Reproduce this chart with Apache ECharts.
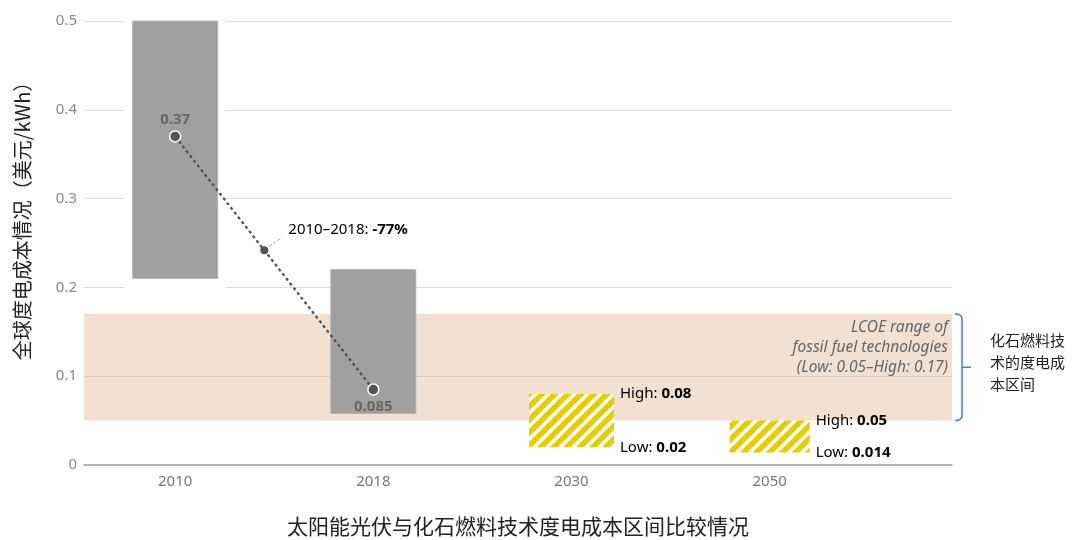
<!DOCTYPE html>
<html><head><meta charset="utf-8">
<script src="https://cdn.jsdelivr.net/npm/echarts@6/dist/echarts.min.js"></script>
<style>html,body{margin:0;padding:0;background:#fff}#c{width:1075px;height:540px}</style>
</head><body><div id="c"></div>
<script>
// ---- data ----
const years = ['2010', '2018', '2030', '2050'];
const solarLow = [0.21, 0.058];
const solarHigh = [0.5, 0.22];
const solarAvg = [0.37, 0.085];
const projLow = [0.02, 0.014];
const projHigh = [0.08, 0.05];
const fossilLow = 0.05;
const fossilHigh = 0.17;
const changeLabel = '2010–2018: ';
const changeValue = '-77%';
const yTicks = [0, 0.1, 0.2, 0.3, 0.4, 0.5];
const yTitle = '全球度电成本情况（美元/kWh）';
const xTitle = '太阳能光伏与化石燃料技术度电成本区间比较情况';
const fossilNote = ['LCOE range of', 'fossil fuel technologies', '(Low: 0.05–High: 0.17)'];
const fossilSideNote = ['化石燃料技', '术的度电成', '本区间'];

// ---- styles ----
const LATIN = '"Noto Sans", "Noto Sans CJK SC", sans-serif';
const CJK = '"Noto Sans CJK SC", "Noto Sans", sans-serif';
const X_MIN = -0.46, X_MAX = 3.92;
const BAR_W = 85;
const GAP = 8;

function hatch() {
  const s = 13, c = document.createElement('canvas');
  c.width = s; c.height = s;
  const g = c.getContext('2d');
  g.fillStyle = '#fff'; g.fillRect(0, 0, s, s);
  g.strokeStyle = '#e6cd00'; g.lineWidth = 5.6;
  g.beginPath();
  g.moveTo(-s, s); g.lineTo(s, -s);
  g.moveTo(-s, 2 * s); g.lineTo(2 * s, -s);
  g.moveTo(0, 2 * s); g.lineTo(2 * s, 0);
  g.stroke();
  return c;
}
const hatchPattern = { image: hatch(), repeat: 'repeat' };

const chart = echarts.init(document.getElementById('c'));
const t = 0.45;
const mid = [t, solarAvg[0] + t * (solarAvg[1] - solarAvg[0])];

chart.setOption({
  animation: false,
  grid: { left: 84, right: 123, top: 21, bottom: 75, outerBoundsMode: 'none', containLabel: false },
  xAxis: {
    type: 'value', min: X_MIN, max: X_MAX,
    splitLine: { show: false },
    axisTick: { show: false },
    axisLine: { show: true, lineStyle: { color: '#a3a3a3', width: 1.5 } },
    axisLabel: {
      customValues: years.map((y, i) => i),
      formatter: v => years[Math.round(v)],
      color: '#777', fontSize: 15, margin: 9, fontFamily: LATIN
    },
    name: xTitle, nameLocation: 'middle', nameGap: 51,
    nameTextStyle: { fontSize: 21, color: '#222', fontFamily: CJK }
  },
  yAxis: {
    type: 'value', min: 0, max: 0.5, interval: 0.1,
    axisLine: { show: false }, axisTick: { show: false },
    splitLine: { lineStyle: { color: '#dcdcdc', width: 1 } },
    axisLabel: {
      customValues: yTicks,
      formatter: v => v === 0 ? '0' : v.toFixed(1),
      color: '#888', fontSize: 15, margin: 7, fontFamily: LATIN
    },
    name: yTitle, nameLocation: 'middle', nameGap: 52,
    nameTextStyle: { fontSize: 20, color: '#222', fontFamily: CJK, padding: [0, 0, 0, 54] }
  },
  series: [
    {
      name: 'fossil', type: 'line', data: [], z: 1,
      markArea: {
        silent: true,
        itemStyle: { color: 'rgba(218,166,126,0.35)' },
        label: {
          show: true, position: 'insideTopRight', distance: 4,
          formatter: fossilNote.join('\n'),
          color: '#666', fontSize: 15.5, lineHeight: 20, fontStyle: 'italic', fontFamily: LATIN
        },
        data: [[{ yAxis: fossilLow }, { yAxis: fossilHigh }]]
      }
    },
    {
      name: 'solar', type: 'custom', z: 2, clip: false,
      data: solarLow.map((l, i) => [i, l, solarHigh[i]]),
      renderItem(params, api) {
        const x = api.value(0);
        const p1 = api.coord([x, api.value(2)]);
        const p2 = api.coord([x, api.value(1)]);
        const children = [];
        if (params.dataIndex === 0) {
          children.push({ type: 'rect', shape: { x: p1[0] - BAR_W / 2 - GAP, y: p1[1], width: BAR_W + 2 * GAP, height: p2[1] - p1[1] + GAP + 2 }, style: { fill: '#fff' } });
        }
        children.push({ type: 'rect', shape: { x: p1[0] - BAR_W / 2, y: p1[1], width: BAR_W, height: p2[1] - p1[1] }, style: { fill: '#a0a19f', stroke: '#b3b4b2', lineWidth: 1 } });
        return { type: 'group', children };
      }
    },
    {
      name: 'proj', type: 'custom', z: 2, clip: false,
      data: projLow.map((l, i) => [i + 2, l, projHigh[i]]),
      renderItem(params, api) {
        const x = api.value(0), lo = api.value(1), hi = api.value(2);
        const p1 = api.coord([x, hi]);
        const p2 = api.coord([x, lo]);
        const w = params.dataIndex === 1 ? 80 : BAR_W;
        const right = p1[0] + w / 2;
        const rich = {
          a: { fontSize: 15, color: '#555', fontFamily: LATIN },
          b: { fontSize: 15, color: '#444', fontWeight: 'bold', fontFamily: LATIN }
        };
        return {
          type: 'group', children: [
            { type: 'rect', shape: { x: p1[0] - w / 2, y: p1[1], width: w, height: p2[1] - p1[1] }, style: { fill: hatchPattern } },
            { type: 'text', style: { x: right + 6, y: p1[1], text: '{a|High: }{b|' + hi + '}', rich, verticalAlign: 'middle' } },
            { type: 'text', style: { x: right + 6, y: p2[1], text: '{a|Low: }{b|' + lo + '}', rich, verticalAlign: 'middle' } }
          ]
        };
      }
    },
    {
      name: 'avg', type: 'line', z: 3,
      data: solarAvg.map((v, i) => ({ value: [i, v], label: { position: i === 0 ? 'top' : 'bottom' } })),
      lineStyle: { color: '#4d4d4d', width: 2.2, type: [3, 3] },
      symbol: 'circle', symbolSize: 11,
      itemStyle: { color: '#555', borderColor: '#fff', borderWidth: 1.5 },
      label: {
        show: true, distance: 3,
        formatter: p => String(p.value[1]),
        color: '#666', fontSize: 15, fontWeight: 'bold', fontFamily: LATIN
      }
    },
    {
      name: 'change', type: 'custom', z: 4, clip: false,
      data: [mid],
      renderItem(params, api) {
        const c = api.coord([api.value(0), api.value(1)]);
        return {
          type: 'group', children: [
            { type: 'circle', shape: { cx: c[0], cy: c[1], r: 4 }, style: { fill: '#555' } },
            { type: 'line', shape: { x1: c[0] + 5, y1: c[1] - 4, x2: c[0] + 18, y2: c[1] - 13 }, style: { stroke: '#999', lineWidth: 1, lineDash: [3, 2] } },
            {
              type: 'text', style: {
                x: c[0] + 24, y: c[1] - 21, verticalAlign: 'middle',
                text: '{a|' + changeLabel + '}{b|' + changeValue + '}',
                rich: {
                  a: { fontSize: 15, color: '#666', fontFamily: LATIN },
                  b: { fontSize: 15, color: '#444', fontWeight: 'bold', fontFamily: LATIN }
                }
              }
            }
          ]
        };
      }
    },
    {
      name: 'bracket', type: 'custom', z: 4, clip: false,
      data: [[0, fossilLow, fossilHigh]],
      renderItem(params, api) {
        const top = api.coord([0, api.value(2)])[1];
        const bot = api.coord([0, api.value(1)])[1];
        const m = (top + bot) / 2;
        const bx = params.coordSys.x + params.coordSys.width + 10;
        const d = `M${bx - 7},${top} Q${bx},${top} ${bx},${top + 5} L${bx},${bot - 5} Q${bx},${bot} ${bx - 7},${bot} M${bx},${m} L${bx + 9},${m}`;
        return {
          type: 'group', children: [
            { type: 'path', shape: { pathData: d }, style: { stroke: '#4a7ebf', fill: null, lineWidth: 1.5 } },
            { type: 'text', style: { x: bx + 28, y: m - 5, verticalAlign: 'middle', text: fossilSideNote.join('\n'), fontSize: 15, lineHeight: 22, fill: '#222', fontFamily: CJK } }
          ]
        };
      }
    }
  ]
});
</script>
</body></html>
